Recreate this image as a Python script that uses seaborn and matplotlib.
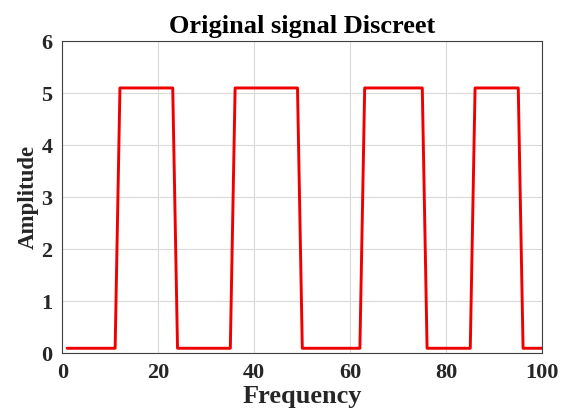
import matplotlib
matplotlib.use("Agg")
import matplotlib.pyplot as plt
import seaborn as sns
import pandas as pd

# Signal vertices (frequency, amplitude)
freq = [1, 11, 12, 23, 24, 35, 36, 49, 50, 62, 63, 75, 76, 85, 86, 95, 96, 100]
amp = [0.1, 0.1, 5.1, 5.1, 0.1, 0.1, 5.1, 5.1, 0.1, 0.1, 5.1, 5.1, 0.1, 0.1, 5.1, 5.1, 0.1, 0.1]
xticks = [0, 20, 40, 60, 80, 100]
yticks = [0, 1, 2, 3, 4, 5, 6]
title = "Original signal Discreet"
xlabel = "Frequency"
ylabel = "Amplitude"

sns.set_style("white")
plt.rcParams['font.family'] = ['Liberation Serif', 'DejaVu Serif']

df = pd.DataFrame({"Frequency": freq, "Amplitude": amp})

fig = plt.figure(figsize=(5.72, 4.11), dpi=100)
ax = fig.add_axes([0.109, 0.140, 0.839, 0.760])
sns.lineplot(data=df, x="Frequency", y="Amplitude", ax=ax, color="#ee0000",
             linewidth=2.1, sort=False)
ax.set_xlim(0, 100)
ax.set_ylim(0, 6)
ax.set_xticks(xticks)
ax.set_yticks(yticks)
ax.grid(True, color="#dadada", linewidth=0.8)
ax.tick_params(direction="in", length=4, width=0.8, colors="#262626",
               labelsize=16, pad=7)
for lbl in ax.get_xticklabels() + ax.get_yticklabels():
    lbl.set_fontweight("bold")
for s in ax.spines.values():
    s.set_color("#404040")
    s.set_linewidth(0.8)
    s.set_visible(True)
ax.set_title(title, fontsize=19, fontweight="bold", pad=6, color="black")
ax.set_xlabel(xlabel, fontsize=19, fontweight="bold", labelpad=1, color="#262626")
ax.set_ylabel(ylabel, fontsize=16.5, fontweight="bold", labelpad=2, color="#262626")
fig.savefig("out.png", dpi=100)
